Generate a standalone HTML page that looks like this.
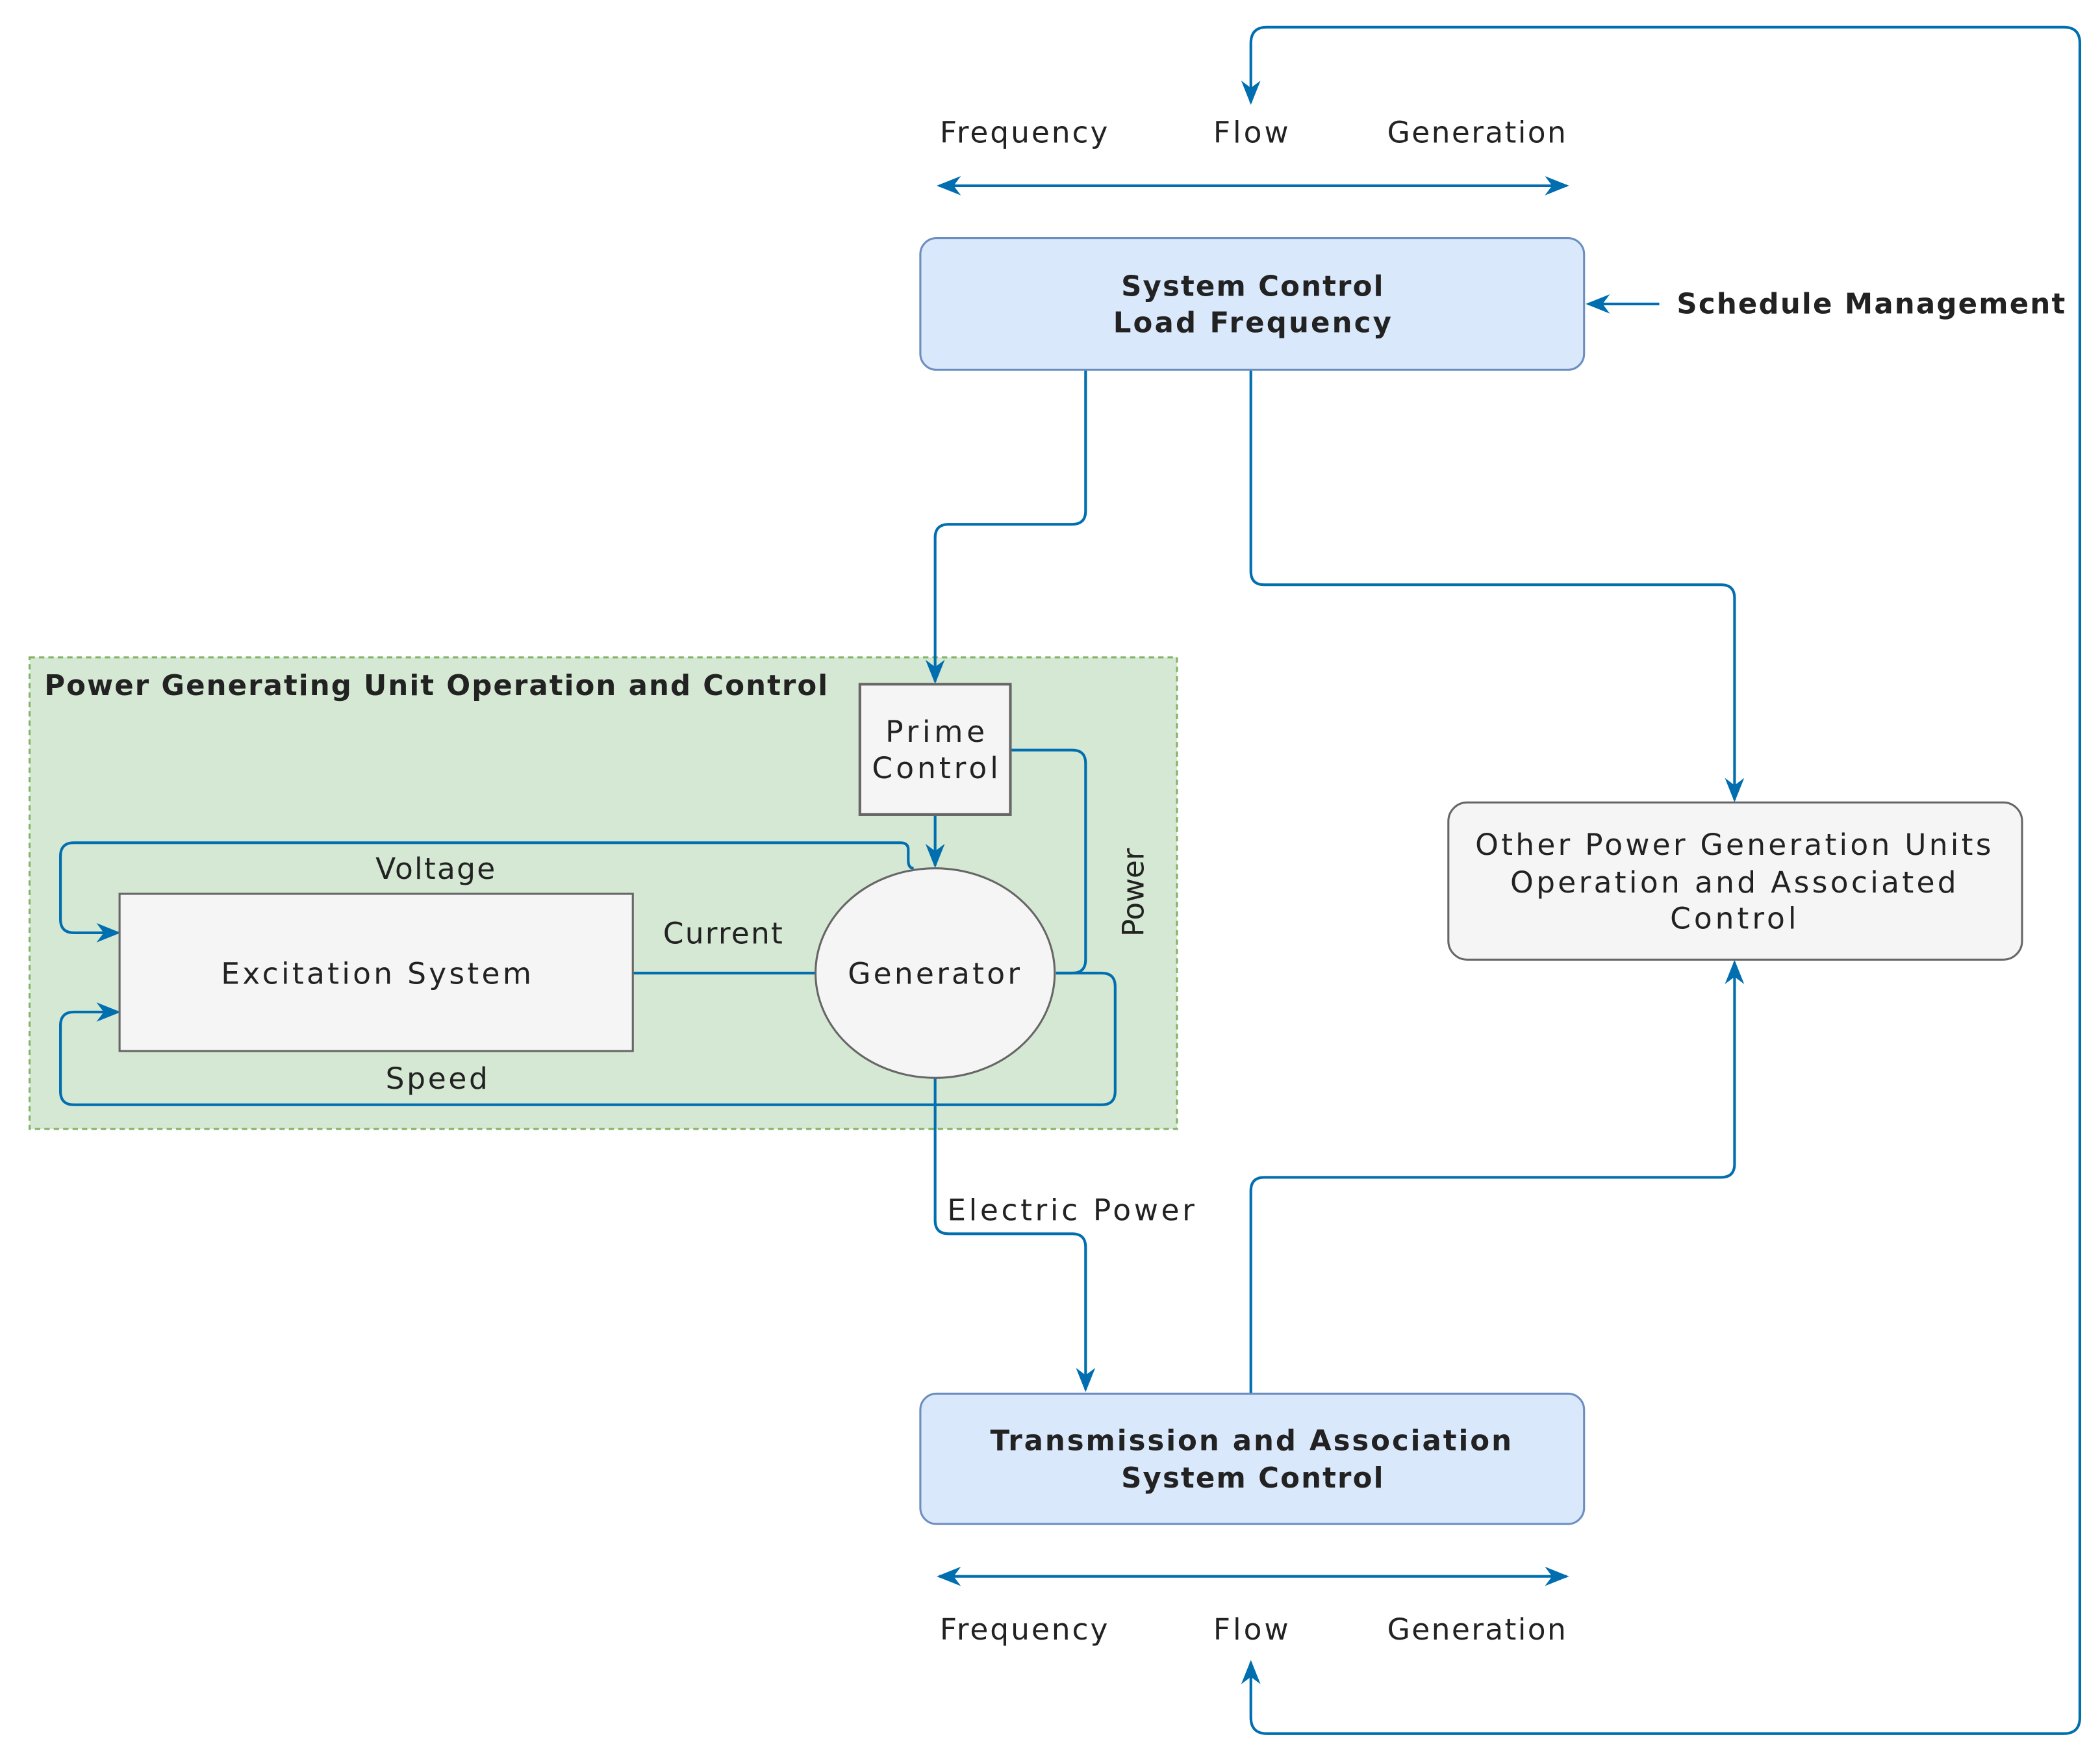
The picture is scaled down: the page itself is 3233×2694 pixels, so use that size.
<!DOCTYPE html>
<html><head><meta charset="utf-8"><style>html,body{margin:0;padding:0;background:#fff}svg{display:block}</style></head><body>
<svg width="3233" height="2694" viewBox="0 0 1563 1302" xmlns="http://www.w3.org/2000/svg" font-family="DejaVu Sans, Liberation Sans, sans-serif">
<style>.l{fill:none;stroke:#006EAF;stroke-width:2}.t{font-size:22px;fill:#222;text-anchor:middle}.b{font-weight:bold;font-size:21px}</style>
<marker id="m" viewBox="0 0 10 10" refX="9" refY="5" markerWidth="18" markerHeight="18" orient="auto-start-reverse" markerUnits="userSpaceOnUse"><path d="M0,1L10,5L0,9L3,5z" fill="#006EAF"/></marker>
<path class="l" d="M931,76V32Q931,20 943,20H1536Q1548,20 1548,32V1278Q1548,1290 1536,1290H943Q931,1290 931,1278V1237" marker-start="url(#m)" marker-end="url(#m)"/>
<text class="t" x="762" y="106" textLength="125">Frequency</text><text class="t" x="931" y="106" textLength="56">Flow</text><text class="t" x="1099" y="106" textLength="133">Generation</text>
<path class="l" d="M699,138H1166" marker-start="url(#m)" marker-end="url(#m)"/>
<text class="t" x="762" y="1220" textLength="125">Frequency</text><text class="t" x="931" y="1220" textLength="56">Flow</text><text class="t" x="1099" y="1220" textLength="133">Generation</text>
<path class="l" d="M699,1173H1166" marker-start="url(#m)" marker-end="url(#m)"/>
<rect x="22" y="489" width="854" height="351" fill="#d5e8d4" stroke="#82b366" stroke-width="1.5" stroke-dasharray="4,3"/>
<text x="33" y="517" font-size="21" fill="#222" font-weight="bold" textLength="583">Power Generating Unit Operation and Control</text>
<path class="l" d="M808,275V380Q808,390 798,390H706Q696,390 696,400V507" marker-end="url(#m)"/>
<path class="l" d="M931,275V425Q931,435 941,435H1281Q1291,435 1291,445V595" marker-end="url(#m)"/>
<path class="l" d="M1235,226H1182" marker-end="url(#m)"/>
<path class="l" d="M696,606V644" marker-end="url(#m)"/>
<path class="l" d="M680,646Q676,646 676,640V632Q676,627 670,627H55Q45,627 45,637V684Q45,694 55,694H88" marker-end="url(#m)"/>
<path class="l" d="M786,724H820Q830,724 830,734V812Q830,822 820,822H55Q45,822 45,812V763Q45,753 55,753H88" marker-end="url(#m)"/>
<path class="l" d="M471,724H607"/>
<path class="l" d="M752,558H798Q808,558 808,568V714Q808,724 798,724H786"/>
<path class="l" d="M696,802V908Q696,918 706,918H798Q808,918 808,928V1034" marker-end="url(#m)"/>
<path class="l" d="M931,1037V886Q931,876 941,876H1281Q1291,876 1291,866V716" marker-end="url(#m)"/>
<rect x="685" y="177" width="494" height="98" rx="12" fill="#dae8fc" stroke="#6c8ebf" stroke-width="1.5"/>
<text class="t b" x="932" y="220" textLength="195">System Control</text><text class="t b" x="932" y="247" textLength="207">Load Frequency</text>
<text x="1248" y="233" font-size="21" font-weight="bold" fill="#222" textLength="289">Schedule Management</text>
<rect x="640" y="509" width="112" height="97" fill="#f5f5f5" stroke="#666" stroke-width="2"/>
<text class="t" x="696" y="552" textLength="74">Prime</text><text class="t" x="696" y="579" textLength="94">Control</text>
<rect x="89" y="665" width="382" height="117" fill="#f5f5f5" stroke="#666" stroke-width="1.5"/>
<text class="t" x="280" y="732" textLength="231">Excitation System</text>
<ellipse cx="696" cy="724" rx="89" ry="78" fill="#f5f5f5" stroke="#666" stroke-width="1.5"/>
<text class="t" x="695" y="732" textLength="128">Generator</text>
<text class="t" x="324" y="654" textLength="89">Voltage</text>
<text class="t" x="325" y="810" textLength="76">Speed</text>
<text class="t" x="538" y="702" textLength="89">Current</text>
<text class="t" transform="translate(851,664) rotate(-90)" textLength="66">Power</text>
<text x="705" y="908" font-size="22" fill="#222" textLength="184">Electric Power</text>
<rect x="1078" y="597" width="427" height="117" rx="14" fill="#f5f5f5" stroke="#666" stroke-width="1.5"/>
<text class="t" x="1290" y="636" textLength="384">Other Power Generation Units</text><text class="t" x="1290" y="664" textLength="332">Operation and Associated</text><text class="t" x="1290" y="691" textLength="94">Control</text>
<rect x="685" y="1037" width="494" height="97" rx="12" fill="#dae8fc" stroke="#6c8ebf" stroke-width="1.5"/>
<text class="t b" x="931" y="1079" textLength="388">Transmission and Association</text><text class="t b" x="932" y="1107" textLength="195">System Control</text>
</svg>
</body></html>
